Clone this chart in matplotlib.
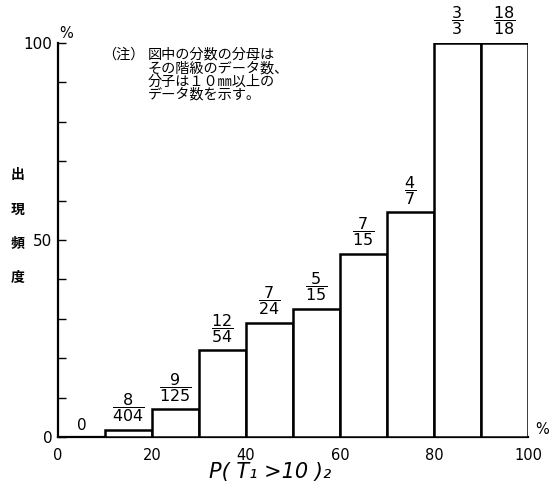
import matplotlib
matplotlib.use("Agg")
import matplotlib.pyplot as plt
import numpy as np

# class edges of P(T1>10)_2 (%) and frequency of occurrence (%)
bin_left = [0, 10, 20, 30, 40, 50, 60, 70, 80, 90]
freq = [0, 1.9, 7.0, 22.0, 29.0, 32.5, 46.5, 57.0, 100, 100]
numer = ["0", "8", "9", "12", "7", "5", "7", "4", "3", "18"]
denom = [None, "404", "125", "54", "24", "15", "15", "7", "3", "18"]

xticks = [0, 20, 40, 60, 80, 100]
yticks = [0, 50, 100]

note_head = "（注）"
note_lines = ["図中の分数の分母は",
              "その階級のデータ数、",
              "分子は１０㎜以上の",
              "データ数を示す。"]
ylabel_chars = ["出", "現", "頻", "度"]

plt.rcParams['font.family'] = ['DejaVu Sans']
plt.rcParams['mathtext.fontset'] = 'dejavusans'
jp = ['Noto Sans CJK JP', 'DejaVu Sans']

W, H = 551, 497
fig = plt.figure(figsize=(W / 100, H / 100), dpi=100)
ax = fig.add_axes([58 / W, 1 - 437 / H, (528 - 58) / W, (437 - 43) / H])

ax.bar(bin_left[1:], freq[1:], width=10, align='edge',
       facecolor='white', edgecolor='black', linewidth=1.8, zorder=3)

ax.set_xlim(0, 100)
ax.set_ylim(0, 100)
for s in ['top', 'right']:
    ax.spines[s].set_visible(False)
for s in ['left', 'bottom']:
    ax.spines[s].set_linewidth(1.6)

ax.set_xticks(xticks)
ax.set_xticklabels([str(v) for v in xticks], fontsize=10.5)
ax.tick_params(axis='x', length=0, pad=8)
ax.set_yticks(yticks)
ax.set_yticklabels([str(v) for v in yticks], fontsize=11)
ax.set_yticks(np.arange(0, 101, 10), minor=True)
ax.tick_params(axis='y', which='both', direction='in', length=6, width=1.0, pad=4)

# fraction labels above each bar
for x0, h, n, d in zip(bin_left, freq, numer, denom):
    xc = x0 + 5
    if d is None:
        ax.annotate(n, xy=(xc, h), xytext=(0, 3), textcoords='offset points',
                    ha='center', va='bottom', fontsize=11, annotation_clip=False)
    else:
        ax.annotate(r'$\dfrac{%s}{%s}$' % (n, d), xy=(xc, h), xytext=(0, 4),
                    textcoords='offset points', ha='center', va='bottom',
                    fontsize=11.5, annotation_clip=False)

# percent marks
fig.text(66 / W, 1 - 33 / H, '%', fontsize=10.5, ha='center', va='center')
fig.text(542 / W, 1 - 430 / H, '%', fontsize=10.5, ha='center', va='center')

# x label
fig.text(270 / W, 1 - 478 / H, 'P( T₁ >10 )₂', fontsize=15, style='italic',
         ha='center', va='baseline')

# vertical y label
for ch, yp in zip(ylabel_chars, [175, 210, 243, 278]):
    fig.text(18 / W, 1 - yp / H, ch, fontsize=10, fontweight='bold',
             family=jp, ha='center', va='center')

# note
fig.text(102 / W, 1 - 55 / H, note_head, fontsize=10.2,
         family=jp, ha='left', va='center')
for line, yp in zip(note_lines, [55, 68, 82, 95]):
    fig.text(148 / W, 1 - yp / H, line, fontsize=10.2,
             family=jp, ha='left', va='center')

fig.savefig('out.png', dpi=100)
